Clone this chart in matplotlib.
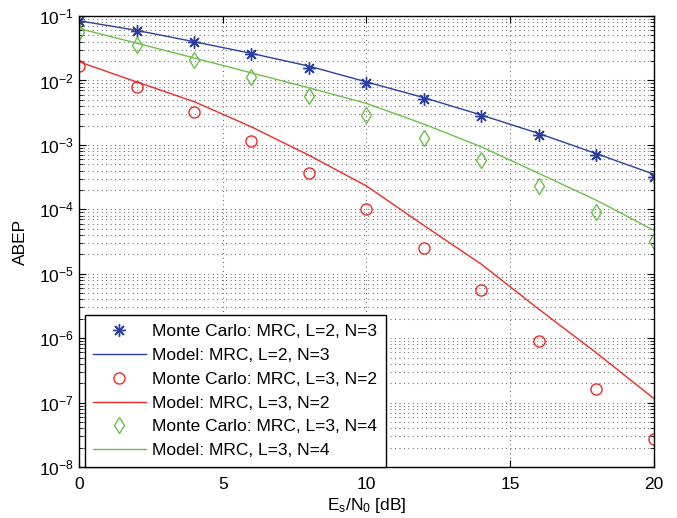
import numpy as np
import matplotlib
matplotlib.use("Agg")
import matplotlib.pyplot as plt
from matplotlib.ticker import LogLocator, FixedLocator, NullFormatter

plt.rcParams['font.family'] = ['Liberation Sans', 'DejaVu Sans']
plt.rcParams['mathtext.fontset'] = 'custom'
plt.rcParams['mathtext.rm'] = 'Liberation Sans'
plt.rcParams['mathtext.it'] = 'Liberation Sans:italic'

snr = [0, 2, 4, 6, 8, 10, 12, 14, 16, 18, 20]

mc_l2n3 = [0.083, 0.058, 0.039, 0.026, 0.0155, 0.0091, 0.0051, 0.0028, 0.00144, 0.00069, 0.00032]
model_l2n3 = [0.0845, 0.060, 0.040, 0.0263, 0.0167, 0.0095, 0.0054, 0.0029, 0.0015, 0.00073, 0.00035]

mc_l3n2 = [0.0169, 0.0078, 0.0032, 0.00115, 0.00036, 1.0e-4, 2.5e-5, 5.6e-6, 9.1e-7, 1.6e-7, 2.7e-8]
model_l3n2 = [0.0195, 0.0095, 0.0047, 0.0019, 0.00069, 2.3e-4, 5.6e-5, 1.4e-5, 2.8e-6, 5.9e-7, 1.15e-7]

mc_l3n4 = [0.0557, 0.036, 0.0207, 0.0114, 0.0058, 0.0029, 0.0013, 0.00058, 0.000234, 9.1e-5, 3.2e-5]
model_l3n4 = [0.064, 0.038, 0.0224, 0.0131, 0.0077, 0.0044, 0.0021, 0.00093, 0.00036, 0.000138, 4.7e-5]

labels = ["Monte Carlo: MRC, L=2, N=3", "Model: MRC, L=2, N=3",
          "Monte Carlo: MRC, L=3, N=2", "Model: MRC, L=3, N=2",
          "Monte Carlo: MRC, L=3, N=4", "Model: MRC, L=3, N=4"]

blue = '#2b3f9e'
red = '#ee2a2a'
green = '#6cc04a'
fs = 12.5

fig = plt.figure(figsize=(6.77, 5.18), dpi=100)
ax = fig.add_axes([0.1167, 0.0985, 0.8493, 0.8705])

ax.plot(snr, mc_l2n3, linestyle='none', marker=(8, 2, 0), ms=9, mec=blue, mew=1.0, label=labels[0])
ax.plot(snr, model_l2n3, color=blue, lw=1.0, label=labels[1])
ax.plot(snr, mc_l3n2, linestyle='none', marker='o', ms=8, mfc='none', mec=red, mew=1.0, label=labels[2])
ax.plot(snr, model_l3n2, color=red, lw=1.0, label=labels[3])
ax.plot(snr, mc_l3n4, linestyle='none', marker='d', ms=8, mfc='none', mec=green, mew=1.0, label=labels[4])
ax.plot(snr, model_l3n4, color=green, lw=1.0, label=labels[5])

ax.set_yscale('log')
ax.set_xlim(0, 20)
ax.set_ylim(1e-8, 1e-1)
ax.set_xticks([0, 5, 10, 15, 20])
ax.yaxis.set_major_locator(FixedLocator([10.0**k for k in range(-8, 0)]))
ax.yaxis.set_minor_locator(LogLocator(base=10, subs=np.arange(2, 10), numticks=20))
ax.yaxis.set_minor_formatter(NullFormatter())
ax.set_yticklabels([r'$10^{%d}$' % k for k in range(-8, 0)])

ax.tick_params(axis='both', which='both', direction='in', top=True, right=True, labelsize=fs)
ax.tick_params(axis='both', which='major', length=5, width=0.8)
ax.tick_params(axis='x', which='major', pad=7)
ax.tick_params(axis='y', which='minor', length=3, width=0.6)
ax.grid(True, which='major', linestyle=(0, (0.8, 3.2)), color='#555555', lw=0.8)
ax.grid(True, which='minor', axis='y', linestyle=(0, (0.8, 3.2)), color='#555555', lw=0.8)
for s in ax.spines.values():
    s.set_linewidth(1.0)

ax.set_xlabel(r'E$_\mathrm{s}$/N$_\mathrm{0}$ [dB]', fontsize=fs, labelpad=3)
ax.set_ylabel('ABEP', fontsize=fs, labelpad=8)

leg = ax.legend(loc='lower left', bbox_to_anchor=(0.01, 0.0), fontsize=fs, fancybox=False,
                edgecolor='black', framealpha=1, handlelength=3.0, labelspacing=0.5,
                borderpad=0.5, handletextpad=0.4, borderaxespad=0.0)
leg.get_frame().set_linewidth(1.0)

fig.savefig('out.png', dpi=100)
